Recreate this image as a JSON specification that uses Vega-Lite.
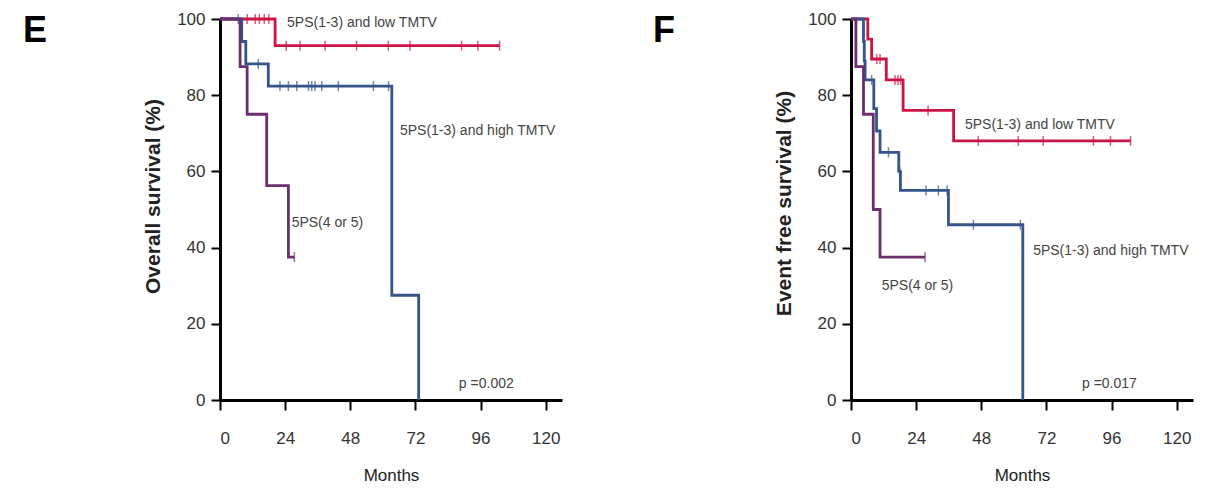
{
  "$schema": "https://vega.github.io/schema/vega-lite/v6.json",
  "background": "white",
  "padding": {"left": 23, "top": 10, "right": 10, "bottom": 0},
  "spacing": 91,
  "config": {
    "view": {"stroke": null},
    "font": "Liberation Sans, Arial, sans-serif",
    "axis": {
      "grid": false,
      "domainColor": "black",
      "domainWidth": 3,
      "tickColor": "black",
      "tickWidth": 2,
      "labelColor": "#333333",
      "labelFontSize": 17,
      "titleColor": "#222222"
    },
    "axisX": {"tickSize": 10, "labelPadding": 20, "titleFontSize": 17, "titleFontWeight": "normal", "titlePadding": 21},
    "axisY": {"tickSize": 9, "labelPadding": 6, "titleFontSize": 21, "titleFontWeight": "bold", "titlePadding": 13},
    "title": {"fontSize": 36, "fontWeight": "bold", "color": "black", "anchor": "start", "frame": "group", "baseline": "alphabetic"}
  },
  "datasets": {
    "osCurves": [
      {"group": "5PS(1-3) and low TMTV", "month": 0, "surv": 100},
      {"group": "5PS(1-3) and low TMTV", "month": 20.3, "surv": 93},
      {"group": "5PS(1-3) and low TMTV", "month": 103, "surv": 93},
      {"group": "5PS(1-3) and high TMTV", "month": 0, "surv": 100},
      {"group": "5PS(1-3) and high TMTV", "month": 8, "surv": 94.1},
      {"group": "5PS(1-3) and high TMTV", "month": 9.5, "surv": 88.2},
      {"group": "5PS(1-3) and high TMTV", "month": 17.8, "surv": 82.4},
      {"group": "5PS(1-3) and high TMTV", "month": 63.3, "surv": 27.5},
      {"group": "5PS(1-3) and high TMTV", "month": 73.2, "surv": 0},
      {"group": "5PS(4 or 5)", "month": 0, "surv": 100},
      {"group": "5PS(4 or 5)", "month": 7.4, "surv": 87.5},
      {"group": "5PS(4 or 5)", "month": 10, "surv": 75},
      {"group": "5PS(4 or 5)", "month": 17.2, "surv": 56.25},
      {"group": "5PS(4 or 5)", "month": 25.2, "surv": 37.5},
      {"group": "5PS(4 or 5)", "month": 27.4, "surv": 37.5}
    ],
    "osCensor": [
      {"group": "5PS(1-3) and low TMTV", "month": 10, "surv": 100},
      {"group": "5PS(1-3) and low TMTV", "month": 13, "surv": 100},
      {"group": "5PS(1-3) and low TMTV", "month": 14.5, "surv": 100},
      {"group": "5PS(1-3) and low TMTV", "month": 16.3, "surv": 100},
      {"group": "5PS(1-3) and low TMTV", "month": 18, "surv": 100},
      {"group": "5PS(1-3) and low TMTV", "month": 24.4, "surv": 93},
      {"group": "5PS(1-3) and low TMTV", "month": 29.5, "surv": 93},
      {"group": "5PS(1-3) and low TMTV", "month": 38.7, "surv": 93},
      {"group": "5PS(1-3) and low TMTV", "month": 50.3, "surv": 93},
      {"group": "5PS(1-3) and low TMTV", "month": 62, "surv": 93},
      {"group": "5PS(1-3) and low TMTV", "month": 70, "surv": 93},
      {"group": "5PS(1-3) and low TMTV", "month": 89, "surv": 93},
      {"group": "5PS(1-3) and low TMTV", "month": 95, "surv": 93},
      {"group": "5PS(1-3) and low TMTV", "month": 103, "surv": 93},
      {"group": "5PS(1-3) and high TMTV", "month": 6.7, "surv": 100},
      {"group": "5PS(1-3) and high TMTV", "month": 14.1, "surv": 88.2},
      {"group": "5PS(1-3) and high TMTV", "month": 22.1, "surv": 82.4},
      {"group": "5PS(1-3) and high TMTV", "month": 25.2, "surv": 82.4},
      {"group": "5PS(1-3) and high TMTV", "month": 28.3, "surv": 82.4},
      {"group": "5PS(1-3) and high TMTV", "month": 32.6, "surv": 82.4},
      {"group": "5PS(1-3) and high TMTV", "month": 33.8, "surv": 82.4},
      {"group": "5PS(1-3) and high TMTV", "month": 35, "surv": 82.4},
      {"group": "5PS(1-3) and high TMTV", "month": 37.5, "surv": 82.4},
      {"group": "5PS(1-3) and high TMTV", "month": 43.6, "surv": 82.4},
      {"group": "5PS(1-3) and high TMTV", "month": 56.5, "surv": 82.4},
      {"group": "5PS(1-3) and high TMTV", "month": 62.1, "surv": 82.4},
      {"group": "5PS(4 or 5)", "month": 27.4, "surv": 37.5}
    ],
    "efsCurves": [
      {"group": "5PS(1-3) and low TMTV", "month": 0, "surv": 100},
      {"group": "5PS(1-3) and low TMTV", "month": 6.2, "surv": 94.7},
      {"group": "5PS(1-3) and low TMTV", "month": 7.6, "surv": 89.5},
      {"group": "5PS(1-3) and low TMTV", "month": 13, "surv": 84},
      {"group": "5PS(1-3) and low TMTV", "month": 19.2, "surv": 76},
      {"group": "5PS(1-3) and low TMTV", "month": 37.8, "surv": 68},
      {"group": "5PS(1-3) and low TMTV", "month": 103, "surv": 68},
      {"group": "5PS(1-3) and high TMTV", "month": 0, "surv": 100},
      {"group": "5PS(1-3) and high TMTV", "month": 4.6, "surv": 94.1},
      {"group": "5PS(1-3) and high TMTV", "month": 4.9, "surv": 89},
      {"group": "5PS(1-3) and high TMTV", "month": 5.2, "surv": 84},
      {"group": "5PS(1-3) and high TMTV", "month": 8.4, "surv": 76.5},
      {"group": "5PS(1-3) and high TMTV", "month": 9.4, "surv": 70.6},
      {"group": "5PS(1-3) and high TMTV", "month": 10.7, "surv": 65},
      {"group": "5PS(1-3) and high TMTV", "month": 17.6, "surv": 60},
      {"group": "5PS(1-3) and high TMTV", "month": 18.2, "surv": 55},
      {"group": "5PS(1-3) and high TMTV", "month": 35.9, "surv": 46},
      {"group": "5PS(1-3) and high TMTV", "month": 63.3, "surv": 0},
      {"group": "5PS(4 or 5)", "month": 0, "surv": 100},
      {"group": "5PS(4 or 5)", "month": 1.8, "surv": 87.5},
      {"group": "5PS(4 or 5)", "month": 4.6, "surv": 75},
      {"group": "5PS(4 or 5)", "month": 8.2, "surv": 50},
      {"group": "5PS(4 or 5)", "month": 10.7, "surv": 37.5},
      {"group": "5PS(4 or 5)", "month": 27.3, "surv": 37.5}
    ],
    "efsCensor": [
      {"group": "5PS(1-3) and low TMTV", "month": 9.5, "surv": 89.5},
      {"group": "5PS(1-3) and low TMTV", "month": 10.7, "surv": 89.5},
      {"group": "5PS(1-3) and low TMTV", "month": 16.2, "surv": 84},
      {"group": "5PS(1-3) and low TMTV", "month": 17.3, "surv": 84},
      {"group": "5PS(1-3) and low TMTV", "month": 18.3, "surv": 84},
      {"group": "5PS(1-3) and low TMTV", "month": 28.4, "surv": 76},
      {"group": "5PS(1-3) and low TMTV", "month": 46.9, "surv": 68},
      {"group": "5PS(1-3) and low TMTV", "month": 61.6, "surv": 68},
      {"group": "5PS(1-3) and low TMTV", "month": 70.8, "surv": 68},
      {"group": "5PS(1-3) and low TMTV", "month": 89.3, "surv": 68},
      {"group": "5PS(1-3) and low TMTV", "month": 95.6, "surv": 68},
      {"group": "5PS(1-3) and low TMTV", "month": 103, "surv": 68},
      {"group": "5PS(1-3) and high TMTV", "month": 7.6, "surv": 84},
      {"group": "5PS(1-3) and high TMTV", "month": 13.8, "surv": 65},
      {"group": "5PS(1-3) and high TMTV", "month": 17.9, "surv": 60},
      {"group": "5PS(1-3) and high TMTV", "month": 27.6, "surv": 55},
      {"group": "5PS(1-3) and high TMTV", "month": 32.2, "surv": 55},
      {"group": "5PS(1-3) and high TMTV", "month": 35.4, "surv": 55},
      {"group": "5PS(1-3) and high TMTV", "month": 45.1, "surv": 46},
      {"group": "5PS(1-3) and high TMTV", "month": 62.4, "surv": 46},
      {"group": "5PS(4 or 5)", "month": 27.3, "surv": 37.5}
    ]
  },
  "hconcat": [
    {
      "title": {"text": "E", "dx": -197, "offset": -40},
      "width": 342,
      "height": 381,
      "layer": [
        {
          "data": {"name": "osCurves"},
          "mark": {"type": "line", "interpolate": "step-after", "strokeWidth": 2.8},
          "encoding": {
            "x": {"field": "month", "type": "quantitative", "scale": {"domain": [0, 126], "nice": false}, "axis": {"values": [0, 24, 48, 72, 96, 120], "title": "Months"}},
            "y": {"field": "surv", "type": "quantitative", "scale": {"domain": [0, 100], "nice": false}, "axis": {"values": [0, 20, 40, 60, 80, 100], "title": "Overall survival (%)", "titleY": 177}},
            "color": {"field": "group", "type": "nominal", "legend": null, "scale": {"domain": ["5PS(1-3) and low TMTV", "5PS(1-3) and high TMTV", "5PS(4 or 5)"], "range": ["#cc1444", "#34548c", "#6b2e6e"]}}
          }
        },
        {
          "data": {"name": "osCensor"},
          "mark": {"type": "tick", "orient": "vertical", "size": 10, "thickness": 1.5},
          "encoding": {
            "x": {"field": "month", "type": "quantitative"},
            "y": {"field": "surv", "type": "quantitative"},
            "color": {"field": "group", "type": "nominal", "legend": null}
          }
        },
        {"data": {"values": [{"note": "5PS(1-3) and low TMTV"}]}, "mark": {"type": "text", "align": "left", "baseline": "middle", "fontSize": 14, "color": "#444444"}, "encoding": {"x": {"datum": 24.7, "type": "quantitative"}, "y": {"datum": 99, "type": "quantitative"}, "text": {"field": "note", "type": "nominal"}}},
        {"data": {"values": [{"note": "5PS(1-3) and high TMTV"}]}, "mark": {"type": "text", "align": "left", "baseline": "middle", "fontSize": 14, "color": "#444444"}, "encoding": {"x": {"datum": 66.3, "type": "quantitative"}, "y": {"datum": 70.5, "type": "quantitative"}, "text": {"field": "note", "type": "nominal"}}},
        {"data": {"values": [{"note": "5PS(4 or 5)"}]}, "mark": {"type": "text", "align": "left", "baseline": "middle", "fontSize": 14, "color": "#444444"}, "encoding": {"x": {"datum": 26.4, "type": "quantitative"}, "y": {"datum": 46.5, "type": "quantitative"}, "text": {"field": "note", "type": "nominal"}}},
        {"data": {"values": [{"note": "p =0.002"}]}, "mark": {"type": "text", "align": "left", "baseline": "middle", "fontSize": 14, "color": "#444444"}, "encoding": {"x": {"datum": 88, "type": "quantitative"}, "y": {"datum": 4.2, "type": "quantitative"}, "text": {"field": "note", "type": "nominal"}}}
      ]
    },
    {
      "title": {"text": "F", "dx": -198, "offset": -40},
      "width": 342,
      "height": 381,
      "layer": [
        {
          "data": {"name": "efsCurves"},
          "mark": {"type": "line", "interpolate": "step-after", "strokeWidth": 2.8},
          "encoding": {
            "x": {"field": "month", "type": "quantitative", "scale": {"domain": [0, 126], "nice": false}, "axis": {"values": [0, 24, 48, 72, 96, 120], "title": "Months"}},
            "y": {"field": "surv", "type": "quantitative", "scale": {"domain": [0, 100], "nice": false}, "axis": {"values": [0, 20, 40, 60, 80, 100], "title": "Event free survival (%)", "titleY": 184}},
            "color": {"field": "group", "type": "nominal", "legend": null, "scale": {"domain": ["5PS(1-3) and low TMTV", "5PS(1-3) and high TMTV", "5PS(4 or 5)"], "range": ["#cc1444", "#34548c", "#6b2e6e"]}}
          }
        },
        {
          "data": {"name": "efsCensor"},
          "mark": {"type": "tick", "orient": "vertical", "size": 10, "thickness": 1.5},
          "encoding": {
            "x": {"field": "month", "type": "quantitative"},
            "y": {"field": "surv", "type": "quantitative"},
            "color": {"field": "group", "type": "nominal", "legend": null}
          }
        },
        {"data": {"values": [{"note": "5PS(1-3) and low TMTV"}]}, "mark": {"type": "text", "align": "left", "baseline": "middle", "fontSize": 14, "color": "#444444"}, "encoding": {"x": {"datum": 42, "type": "quantitative"}, "y": {"datum": 72.2, "type": "quantitative"}, "text": {"field": "note", "type": "nominal"}}},
        {"data": {"values": [{"note": "5PS(1-3) and high TMTV"}]}, "mark": {"type": "text", "align": "left", "baseline": "middle", "fontSize": 14, "color": "#444444"}, "encoding": {"x": {"datum": 67.1, "type": "quantitative"}, "y": {"datum": 39.2, "type": "quantitative"}, "text": {"field": "note", "type": "nominal"}}},
        {"data": {"values": [{"note": "5PS(4 or 5)"}]}, "mark": {"type": "text", "align": "left", "baseline": "middle", "fontSize": 14, "color": "#444444"}, "encoding": {"x": {"datum": 11.3, "type": "quantitative"}, "y": {"datum": 30, "type": "quantitative"}, "text": {"field": "note", "type": "nominal"}}},
        {"data": {"values": [{"note": "p =0.017"}]}, "mark": {"type": "text", "align": "left", "baseline": "middle", "fontSize": 14, "color": "#444444"}, "encoding": {"x": {"datum": 85.1, "type": "quantitative"}, "y": {"datum": 4.2, "type": "quantitative"}, "text": {"field": "note", "type": "nominal"}}}
      ]
    }
  ]
}
